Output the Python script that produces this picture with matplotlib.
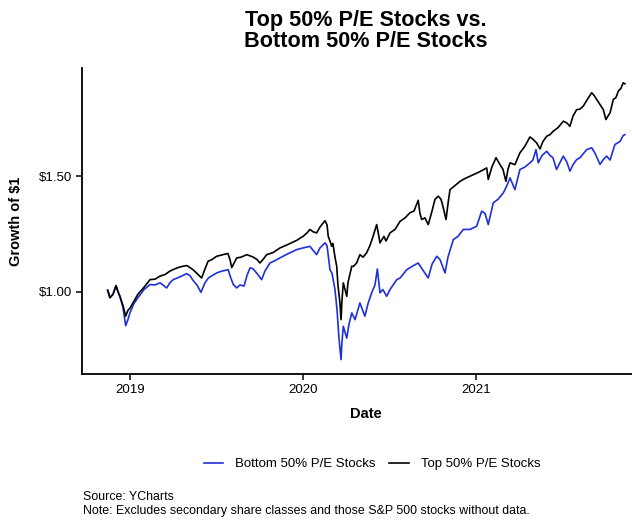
import matplotlib.pyplot as plt
import matplotlib.dates as mdates
from matplotlib.ticker import FuncFormatter
import pandas as pd

plt.rcParams['font.family'] = ['Liberation Sans', 'DejaVu Sans']

# dates stored as decimal years, values are growth of $1
top_years = [2018.871, 2018.884, 2018.902, 2018.919, 2018.931, 2018.942, 2018.960, 2018.975, 2018.988,
             2019.000, 2019.023, 2019.046, 2019.081, 2019.116, 2019.145, 2019.173, 2019.202, 2019.231,
             2019.260, 2019.289, 2019.328, 2019.347, 2019.364, 2019.387, 2019.414, 2019.434, 2019.451,
             2019.474, 2019.501, 2019.532, 2019.566, 2019.578, 2019.588, 2019.617, 2019.642, 2019.675,
             2019.711, 2019.734, 2019.751, 2019.769, 2019.790, 2019.827, 2019.867, 2019.913, 2019.964,
             2020.000, 2020.023, 2020.040, 2020.058, 2020.079, 2020.098, 2020.127, 2020.139, 2020.146,
             2020.156, 2020.166, 2020.173, 2020.185, 2020.195, 2020.202, 2020.214, 2020.220, 2020.225,
             2020.233, 2020.243, 2020.253, 2020.260, 2020.282, 2020.291, 2020.310, 2020.329, 2020.347,
             2020.368, 2020.387, 2020.405, 2020.426, 2020.434, 2020.445, 2020.468, 2020.480, 2020.503,
             2020.532, 2020.561, 2020.590, 2020.618, 2020.642, 2020.666, 2020.676, 2020.686, 2020.705,
             2020.724, 2020.746, 2020.763, 2020.782, 2020.798, 2020.809, 2020.827, 2020.838, 2020.850,
             2020.879, 2020.908, 2020.936, 2020.965, 2020.994, 2021.023, 2021.062, 2021.071, 2021.092,
             2021.116, 2021.139, 2021.156, 2021.173, 2021.185, 2021.197, 2021.225, 2021.254, 2021.283,
             2021.312, 2021.329, 2021.351, 2021.370, 2021.387, 2021.409, 2021.428, 2021.447, 2021.474,
             2021.505, 2021.526, 2021.543, 2021.561, 2021.582, 2021.601, 2021.620, 2021.642, 2021.669,
             2021.682, 2021.698, 2021.717, 2021.736, 2021.751, 2021.763, 2021.775, 2021.794, 2021.809,
             2021.823, 2021.838, 2021.851, 2021.861]
top_vals = [1.007, 0.975, 0.990, 1.027, 1.000, 0.980, 0.940, 0.895, 0.920,
            0.930, 0.960, 0.990, 1.020, 1.053, 1.055, 1.068, 1.075, 1.090,
            1.100, 1.108, 1.114, 1.105, 1.096, 1.080, 1.060, 1.100, 1.132,
            1.140, 1.154, 1.160, 1.166, 1.140, 1.105, 1.147, 1.150, 1.161,
            1.151, 1.140, 1.125, 1.140, 1.161, 1.170, 1.190, 1.205, 1.223,
            1.240, 1.255, 1.270, 1.260, 1.255, 1.280, 1.308, 1.290, 1.240,
            1.220, 1.197, 1.210, 1.150, 1.110, 1.030, 0.950, 0.880, 0.960,
            1.039, 1.010, 0.981, 1.040, 1.111, 1.110, 1.125, 1.161, 1.150,
            1.169, 1.200, 1.240, 1.291, 1.260, 1.212, 1.240, 1.220, 1.255,
            1.270, 1.305, 1.320, 1.342, 1.350, 1.396, 1.340, 1.313, 1.320,
            1.291, 1.350, 1.400, 1.414, 1.400, 1.370, 1.313, 1.380, 1.442,
            1.460, 1.478, 1.490, 1.500, 1.510, 1.520, 1.536, 1.486, 1.540,
            1.580, 1.550, 1.530, 1.478, 1.530, 1.558, 1.550, 1.601, 1.630,
            1.670, 1.660, 1.644, 1.618, 1.650, 1.673, 1.680, 1.695, 1.710,
            1.738, 1.730, 1.716, 1.760, 1.788, 1.790, 1.803, 1.830, 1.861,
            1.850, 1.832, 1.810, 1.788, 1.745, 1.760, 1.774, 1.832, 1.840,
            1.868, 1.880, 1.904, 1.900]

bottom_years = [2018.871, 2018.884, 2018.902, 2018.919, 2018.931, 2018.942, 2018.960, 2018.975, 2018.988,
                2019.000, 2019.023, 2019.046, 2019.081, 2019.116, 2019.145, 2019.173, 2019.191, 2019.212,
                2019.231, 2019.250, 2019.289, 2019.328, 2019.347, 2019.364, 2019.387, 2019.410, 2019.434,
                2019.453, 2019.474, 2019.501, 2019.532, 2019.568, 2019.578, 2019.597, 2019.617, 2019.636,
                2019.659, 2019.676, 2019.694, 2019.711, 2019.734, 2019.761, 2019.780, 2019.809, 2019.838,
                2019.867, 2019.913, 2019.964, 2020.000, 2020.040, 2020.058, 2020.079, 2020.098, 2020.127,
                2020.139, 2020.147, 2020.156, 2020.168, 2020.185, 2020.197, 2020.208, 2020.220, 2020.225,
                2020.233, 2020.253, 2020.266, 2020.282, 2020.301, 2020.329, 2020.358, 2020.376, 2020.397,
                2020.416, 2020.430, 2020.445, 2020.462, 2020.484, 2020.503, 2020.542, 2020.561, 2020.600,
                2020.630, 2020.666, 2020.688, 2020.724, 2020.746, 2020.773, 2020.792, 2020.821, 2020.838,
                2020.869, 2020.896, 2020.927, 2020.965, 2021.004, 2021.033, 2021.052, 2021.071, 2021.100,
                2021.127, 2021.158, 2021.179, 2021.197, 2021.225, 2021.254, 2021.283, 2021.312, 2021.329,
                2021.347, 2021.360, 2021.382, 2021.409, 2021.428, 2021.445, 2021.466, 2021.486, 2021.505,
                2021.526, 2021.543, 2021.561, 2021.582, 2021.601, 2021.640, 2021.669, 2021.688, 2021.717,
                2021.734, 2021.755, 2021.775, 2021.803, 2021.832, 2021.851, 2021.861]
bottom_vals = [1.007, 0.975, 0.990, 1.027, 1.000, 0.980, 0.930, 0.854, 0.880,
               0.910, 0.950, 0.975, 1.010, 1.032, 1.030, 1.039, 1.030, 1.017,
               1.040, 1.053, 1.065, 1.079, 1.070, 1.050, 1.030, 0.998, 1.040,
               1.060, 1.070, 1.082, 1.090, 1.096, 1.070, 1.032, 1.017, 1.030,
               1.025, 1.070, 1.104, 1.100, 1.080, 1.053, 1.090, 1.125, 1.135,
               1.147, 1.165, 1.183, 1.190, 1.197, 1.180, 1.161, 1.190, 1.212,
               1.200, 1.150, 1.096, 1.080, 1.010, 0.920, 0.800, 0.707, 0.780,
               0.851, 0.800, 0.860, 0.909, 0.880, 0.952, 0.895, 0.950, 0.996,
               1.030, 1.099, 0.996, 1.010, 0.981, 1.010, 1.053, 1.060, 1.096,
               1.110, 1.125, 1.100, 1.060, 1.120, 1.154, 1.140, 1.082, 1.150,
               1.226, 1.240, 1.270, 1.270, 1.284, 1.349, 1.340, 1.291, 1.385,
               1.400, 1.428, 1.460, 1.493, 1.442, 1.529, 1.540, 1.558, 1.570,
               1.615, 1.558, 1.590, 1.608, 1.590, 1.580, 1.529, 1.560, 1.587,
               1.560, 1.522, 1.550, 1.572, 1.580, 1.615, 1.623, 1.600, 1.551,
               1.570, 1.587, 1.570, 1.637, 1.650, 1.676, 1.680]

x_ticks = ['2019-01-01', '2020-01-01', '2021-01-01']
y_ticks = [1.0, 1.5]


def to_dates(years):
    base = pd.Timestamp('2019-01-01')
    return [base + pd.Timedelta(days=(y - 2019) * 365.25) for y in years]


fig = plt.figure(figsize=(6.32, 5.22), dpi=100)
# panel runs past the right edge, as in the (cropped) original
ax = fig.add_axes([82 / 632, 1 - 374 / 522, 568 / 632, 306 / 522])

ax.plot(to_dates(bottom_years), bottom_vals, color='#1f30d9', lw=1.2, label='Bottom 50% P/E Stocks')
ax.plot(to_dates(top_years), top_vals, color='black', lw=1.2, label='Top 50% P/E Stocks')

ax.set_xlim(to_dates([2018.7225, 2022.006]))
ax.set_ylim(0.645, 1.968)
ax.set_xticks([pd.Timestamp(t) for t in x_ticks])
ax.xaxis.set_major_formatter(mdates.DateFormatter('%Y'))
ax.set_yticks(y_ticks)
ax.yaxis.set_major_formatter(FuncFormatter(lambda v, p: f'${v:.2f}'))

for s in ['top', 'right']:
    ax.spines[s].set_visible(False)
for s in ['left', 'bottom']:
    ax.spines[s].set_linewidth(1.3)
ax.tick_params(length=4, width=1.1, labelsize=9.5, colors='black', pad=3)

ax.set_xlabel('Date', fontsize=10.5, fontweight='bold', labelpad=8)
fig.text(16 / 632, 1 - 221 / 522, 'Growth of $1', rotation=90, ha='center', va='center',
         fontsize=10.5, fontweight='bold')

fig.text(366 / 632, 1 - 31 / 522, 'Top 50% P/E Stocks vs.\nBottom 50% P/E Stocks', ha='center',
         va='center', fontsize=15.6, fontweight='bold', linespacing=1.0)

fig.legend(loc='center', bbox_to_anchor=(372 / 632, 1 - 464 / 522), ncol=2, frameon=False,
           fontsize=9.5, handlelength=1.5, handletextpad=0.9, columnspacing=1.0)

fig.text(83 / 632, 1 - 497 / 522, 'Source: YCharts', fontsize=8.9, va='center')
fig.text(83 / 632, 1 - 511 / 522, 'Note: Excludes secondary share classes and those S&P 500 stocks without data.',
         fontsize=8.9, va='center')

fig.savefig('out.png', dpi=100)
